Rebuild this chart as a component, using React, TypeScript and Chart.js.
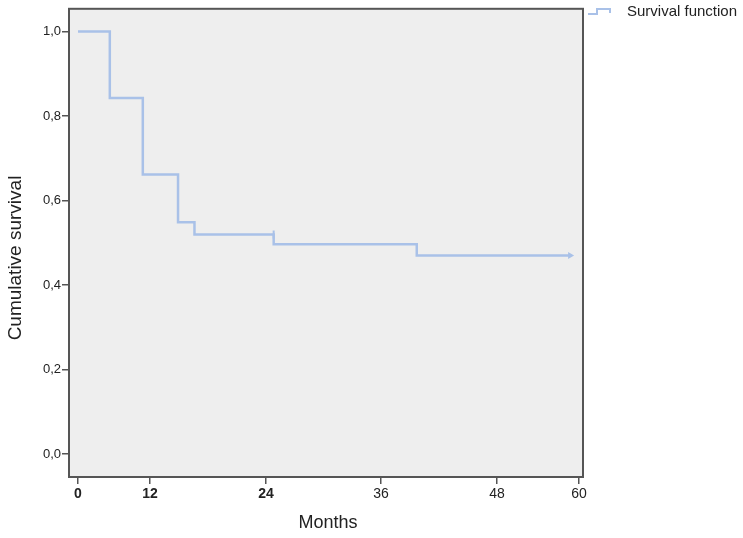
import React, { useEffect, useRef } from "react";
import { Chart, LinearScale, registerables } from "chart.js";

// ---- data ----
const eventMonths = [0, 5.3, 10.8, 14.9, 16.6, 24.8, 39.7, 58.7];
const survival = [1.0, 0.843, 0.662, 0.549, 0.52, 0.497, 0.47, 0.47];
const censoredMonths = [24.8];
const censoredSurvival = [0.52];
const xTickValues = [0, 12, 24, 36, 48, 60];
const xTickLabels = ["0", "12", "24", "36", "48", "60"];
const yTickValues = [0, 0.2, 0.4, 0.6, 0.8, 1.0];
const seriesLabel = "Survival function";
const xTitle = "Months";
const yTitle = "Cumulative survival";

// axis layout (value -> fraction of axis width), reproduces the uneven tick spacing
const xKnotValues = [-1.5, 0, 12, 24, 36, 48, 60, 60.6];
const xKnotDecimals = [0, 0.0175, 0.1576, 0.3833, 0.607, 0.8327, 0.9922, 1];

function interp(v: number, xs: number[], ys: number[]) {
  let i = 0;
  if (v <= xs[0]) i = 0;
  else if (v >= xs[xs.length - 1]) i = xs.length - 2;
  else {
    while (i < xs.length - 2 && v > xs[i + 1]) i++;
  }
  const t = (v - xs[i]) / (xs[i + 1] - xs[i]);
  return ys[i] + t * (ys[i + 1] - ys[i]);
}

class PiecewiseScale extends LinearScale {
  static id = "piecewise";
  static defaults = LinearScale.defaults;
  getPixelForValue(value: any) {
    if (value === null || value === undefined || isNaN(value)) return NaN;
    return this.getPixelForDecimal(interp(value, xKnotValues, xKnotDecimals));
  }
  getValueForPixel(pixel: number) {
    return interp(this.getDecimalForPixel(pixel), xKnotDecimals, xKnotValues);
  }
}

Chart.register(...registerables, PiecewiseScale as any);

const lineColor = "#a9c1e8";
const FONT = "'Liberation Sans', Arial, sans-serif";

const decorPlugin = {
  id: "decor",
  beforeDatasetsDraw(chart: any) {
    const { ctx, chartArea: a } = chart;
    ctx.save();
    ctx.fillStyle = "#eeeeee";
    ctx.fillRect(a.left, a.top, a.right - a.left, a.bottom - a.top);
    ctx.restore();
  },
  afterDraw(chart: any) {
    const { ctx, chartArea: a } = chart;
    ctx.save();
    // plot border
    ctx.strokeStyle = "#555555";
    ctx.lineWidth = 2;
    ctx.strokeRect(a.left, a.top, a.right - a.left, a.bottom - a.top);
    // axis titles
    ctx.fillStyle = "#222";
    ctx.textAlign = "center";
    ctx.textBaseline = "middle";
    ctx.font = `18px ${FONT}`;
    ctx.fillText(xTitle, (a.left + a.right) / 2 + 2, 523);
    ctx.save();
    ctx.translate(16, 258);
    ctx.rotate(-Math.PI / 2);
    ctx.font = `19px ${FONT}`;
    ctx.fillText(yTitle, 0, 0);
    ctx.restore();
    // legend
    const lx = a.right + 5;
    ctx.strokeStyle = lineColor;
    ctx.lineWidth = 2;
    ctx.beginPath();
    ctx.moveTo(lx, 14);
    ctx.lineTo(lx + 9, 14);
    ctx.lineTo(lx + 9, 9);
    ctx.lineTo(lx + 22, 9);
    ctx.lineTo(lx + 22, 13);
    ctx.stroke();
    ctx.fillStyle = "#222";
    ctx.textAlign = "left";
    ctx.font = `15px ${FONT}`;
    ctx.fillText(seriesLabel, lx + 39, 12);
    ctx.restore();
  },
};

export default function App() {
  const ref = useRef<HTMLCanvasElement | null>(null);
  useEffect(() => {
    document.body.style.margin = "0";
    document.body.style.overflow = "hidden";
    const last = eventMonths.length - 1;
    const chart = new Chart(ref.current as HTMLCanvasElement, {
      type: "line",
      data: {
        datasets: [
          {
            label: seriesLabel,
            data: eventMonths.map((x, i) => ({ x, y: survival[i] })),
            stepped: true,
            borderColor: lineColor,
            backgroundColor: lineColor,
            borderWidth: 2.5,
            pointStyle: "triangle",
            rotation: 90,
            pointRadius: (c: any) => (c.dataIndex === last ? 4 : 0),
            pointBorderWidth: 0,
            pointBackgroundColor: lineColor,
            fill: false,
          } as any,
          {
            label: "Censored",
            data: censoredMonths.map((x, i) => ({ x, y: censoredSurvival[i] })),
            showLine: false,
            pointStyle: "line",
            rotation: 90,
            pointRadius: 4,
            borderColor: lineColor,
            pointBorderWidth: 2,
          } as any,
        ],
      },
      options: {
        animation: false,
        responsive: true,
        maintainAspectRatio: false,
        layout: { padding: { left: 0, top: 5, right: 160, bottom: 0 } },
        plugins: { legend: { display: false }, tooltip: { enabled: false } },
        scales: {
          x: {
            type: "piecewise" as any,
            min: -1.5,
            max: 60.6,
            afterBuildTicks: (s: any) => {
              s.ticks = xTickValues.map((v) => ({ value: v }));
            },
            afterFit: (s: any) => {
              s.height = 61;
            },
            border: { display: false },
            grid: { drawOnChartArea: false, tickLength: 7, color: "#555", lineWidth: 1.5 },
            ticks: {
              autoSkip: false,
              maxRotation: 0,
              padding: 2,
              color: "#222",
              font: (c: any) => ({
                family: FONT,
                size: 14,
                weight: c.index !== undefined && c.index < 3 ? "bold" : "normal",
              }),
              callback: (_v: any, i: number) => xTickLabels[i],
            },
          },
          y: {
            type: "linear",
            min: -0.054,
            max: 1.054,
            afterBuildTicks: (s: any) => {
              s.ticks = yTickValues.map((v) => ({ value: v }));
            },
            afterFit: (s: any) => {
              s.width = 69;
            },
            border: { display: false },
            grid: { drawOnChartArea: false, tickLength: 7, color: "#555", lineWidth: 1.5 },
            ticks: {
              padding: 1,
              color: "#222",
              font: { family: FONT, size: 13 },
              callback: (v: any) => Number(v).toFixed(1).replace(".", ","),
            },
          },
        },
      },
      plugins: [decorPlugin],
    });
    return () => chart.destroy();
  }, []);
  return (
    <div style={{ position: "relative", width: 743, height: 538 }}>
      <canvas ref={ref} />
    </div>
  );
}
